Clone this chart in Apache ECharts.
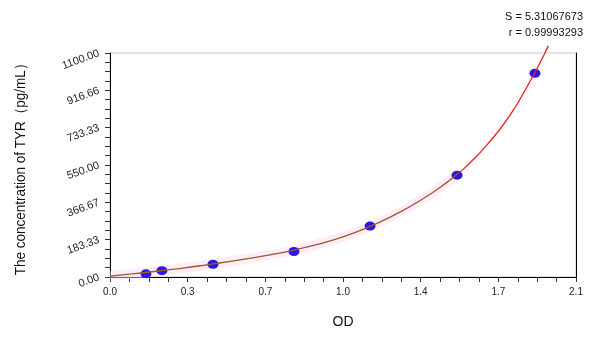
<!DOCTYPE html>
<html><head><meta charset="utf-8">
<script src="https://cdn.jsdelivr.net/npm/echarts@6/dist/echarts.min.js"></script>
<style>html,body{margin:0;padding:0;background:#fff}#c{width:600px;height:337px}</style>
</head><body><div id="c"></div>
<script>
// Standard points: OD vs concentration
const stdOD = [0.162, 0.234, 0.464, 0.829, 1.172, 1.564, 1.915];
const stdConc = [15.6, 31.25, 62.5, 125, 250, 500, 1000];
// Fitted curve (lower part brown, upper part red)
const fitLowX = [0.0, 0.1, 0.2, 0.3, 0.4, 0.5, 0.6, 0.7, 0.8, 0.9, 1.0, 1.1, 1.2, 1.3, 1.4, 1.5, 1.564];
const fitLowY = [4, 15, 27, 40, 54, 70, 87, 105, 125, 150, 180, 217, 262, 315, 377, 450, 505];
const fitHighX = [1.564, 1.6, 1.7, 1.8, 1.9, 1.96, 1.975];
const fitHighY = [505, 537, 650, 790, 975, 1100, 1135];
const xTickLabels = ['0.0', '0.3', '0.7', '1.0', '1.4', '1.7', '2.1'];
const yTickLabels = ['0.00', '183.33', '366.67', '550.00', '733.33', '916.66', '1100.00'];
const yTitle = 'The concentration of TYR（pg/mL）';
const xTitle = 'OD';
const statS = 'S = 5.31067673';
const statR = 'r = 0.99993293';

const pairs = (xs, ys) => xs.map((x, i) => [x, ys[i]]);
const chart = echarts.init(document.getElementById('c'));
const font = 'Liberation Sans, Arial, sans-serif';
chart.setOption({
  animation: false,
  grid: {left: 110, right: 24, top: 53, bottom: 60, show: true, borderColor: '#c8c8c8', borderWidth: 1},
  graphic: [
    {type: 'text', x: 583, y: 11, style: {text: statS, align: 'right', verticalAlign: 'top',
      font: '11px ' + font, fill: '#111'}},
    {type: 'text', x: 583, y: 27, style: {text: statR, align: 'right', verticalAlign: 'top',
      font: '11px ' + font, fill: '#111'}},
    {type: 'text', x: 21, y: 166, rotation: Math.PI / 2, scaleX: 0.9,
      style: {text: yTitle, align: 'center', verticalAlign: 'middle', font: '15px ' + font, fill: '#111'}}
  ],
  xAxis: {type: 'value', min: 0, max: 2.1, interval: 0.35,
    name: xTitle, nameLocation: 'middle', nameGap: 38,
    nameTextStyle: {fontSize: 14, color: '#111', fontFamily: font},
    axisLine: {show: true, lineStyle: {color: '#000', width: 1}},
    axisTick: {show: true, length: 5, lineStyle: {color: '#333'}},
    minorTick: {show: true, splitNumber: 4, length: 5, lineStyle: {color: '#333'}},
    splitLine: {show: false},
    axisLabel: {fontSize: 10, color: '#222', fontFamily: font, margin: 10,
      formatter: v => xTickLabels[Math.round(v / 0.35)]}},
  yAxis: [{type: 'value', min: 0, max: 1100, interval: 1100 / 6,
    axisLine: {show: true, lineStyle: {color: '#000', width: 1}},
    axisTick: {show: true, length: 5, lineStyle: {color: '#333'}},
    minorTick: {show: true, splitNumber: 4, length: 5, lineStyle: {color: '#333'}},
    splitLine: {show: false},
    axisLabel: {fontSize: 11, color: '#222', fontFamily: font, rotate: 20, margin: 11,
      formatter: v => yTickLabels[Math.round(v / (1100 / 6))]}},
    {type: 'value', min: 0, max: 1100, position: 'right',
    axisLine: {show: true, lineStyle: {color: '#000', width: 1}},
    axisTick: {show: false}, axisLabel: {show: false}, splitLine: {show: false}}],
  series: [
    {type: 'line', data: pairs(fitLowX, fitLowY), smooth: true, showSymbol: false, z: 1,
      lineStyle: {color: 'rgba(252,214,240,0.45)', width: 10}},
    {type: 'scatter', data: pairs(stdOD, stdConc), symbol: 'circle', symbolSize: [11, 9], z: 2,
      itemStyle: {color: '#2a16e6', opacity: 1}},
    {type: 'line', data: pairs(fitLowX, fitLowY), smooth: true, showSymbol: false, z: 3,
      lineStyle: {color: '#9a5a2c', width: 1.3}},
    {type: 'line', data: pairs(fitHighX, fitHighY), smooth: true, showSymbol: false, z: 3, clip: false,
      lineStyle: {color: '#ee1c25', width: 1.3}}
  ]
});
</script></body></html>
